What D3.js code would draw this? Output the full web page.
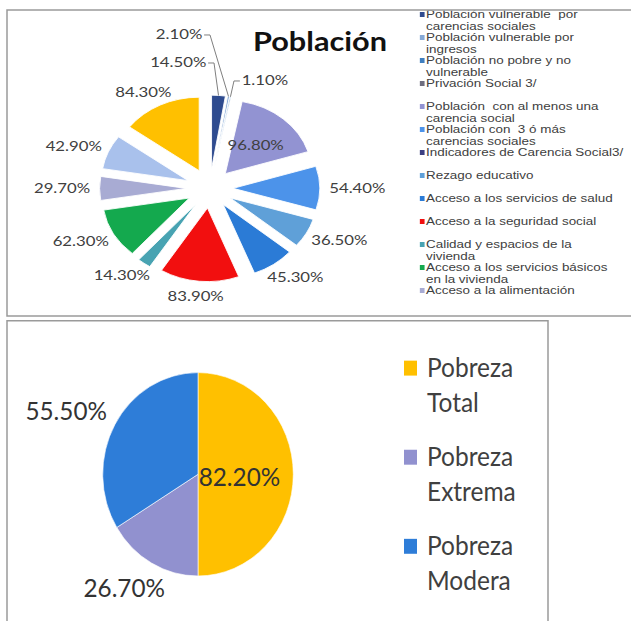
<!DOCTYPE html>
<html>
<head>
<meta charset="utf-8">
<script src="https://cdn.jsdelivr.net/npm/d3@7"></script>
<style>
  body { margin: 0; background: #fff; }
  svg { display: block; }
  text { white-space: pre; }
</style>
</head>
<body>
<svg width="631" height="621"></svg>
<script>
// ---- top chart "Población" (slices clockwise from 12 o'clock) ----
const poblacionValues = [14.5, 2.1, 1.1, 0, 96.8, 54.4, 0, 36.5, 45.3, 83.9, 14.3, 62.3, 29.7, 42.9, 84.3];
const poblacionColors = ["#2E4B8F", "#86A9D6", "#3F7FC0", "#6E6E80", "#9293D2", "#4C93EA", "#3B3F82",
                         "#5FA0D8", "#2B7BD6", "#F20F0F", "#48A3B2", "#14A94E", "#A8ABD3", "#A9C1EC", "#FFC000"];
// legend as shown (Excel cut it after 13 entries)
const poblacionLegend = [
  ["Población vulnerable  por", "carencias sociales"],
  ["Población vulnerable por", "ingresos"],
  ["Población no pobre y no", "vulnerable"],
  ["Privación Social 3/"],
  ["Población  con al menos una", "carencia social"],
  ["Población con  3 ó más", "carencias sociales"],
  ["Indicadores de Carencia Social3/"],
  ["Rezago educativo"],
  ["Acceso a los servicios de salud"],
  ["Acceso a la seguridad social"],
  ["Calidad y espacios de la", "vivienda"],
  ["Acceso a los servicios básicos", "en la vivienda"],
  ["Acceso a la alimentación"]
];

// ---- bottom chart ----
const pobrezaLegend = [["Pobreza", "Total"], ["Pobreza", "Extrema"], ["Pobreza", "Modera"]];
const pobrezaValues = [82.2, 26.7, 55.5];
const pobrezaColors = ["#FFC000", "#9191CF", "#2E7DD8"];

const fmt = v => v.toFixed(2) + "%";
const mid = d => (d.startAngle + d.endAngle) / 2;
const svg = d3.select("svg");

// panel frames
const frame = svg.append("g").attr("stroke", "#9a9a9a").attr("stroke-width", 1.5).attr("fill", "none");
frame.append("path").attr("d", "M631,10H7V316H631");
frame.append("path").attr("d", "M7,621V320.7H548V621");

svg.append("clipPath").attr("id", "clipTop")
  .append("rect").attr("x", 8).attr("y", 10.8).attr("width", 623).attr("height", 304.5);

// the top screenshot is stretched sideways, so draw it in a scaled group
const sx = 1.18;
const tg = svg.append("g").attr("clip-path", "url(#clipTop)")
  .append("g").attr("transform", `scale(${sx},1)`);

const R1 = 73.5, ex1 = 19.8;
const pieTop = d3.pie().sort(null).value(d => d)(poblacionValues);
const arc1 = d3.arc().innerRadius(0).outerRadius(R1);
const pg = tg.append("g").attr("transform", "translate(177.7,188.4)");

pg.selectAll("path.slice")
  .data(pieTop.filter(d => d.value > 0))
  .join("path")
    .attr("class", "slice")
    .attr("transform", d => `translate(${ex1 * Math.sin(mid(d))},${-ex1 * Math.cos(mid(d))})`)
    .attr("d", arc1)
    .attr("fill", d => poblacionColors[d.index])
    .attr("stroke", "#fff")
    .attr("stroke-width", 0.8);

// labels
const maxVal = d3.max(poblacionValues);
// leader-line elbows for the thin slices at the top: [dx, dy] from the slice edge, side of label
const callouts = { 0: [-3.8, -32.4, -1], 1: [-15.7, -61.5, -1], 2: [3, -15.8, 1] };
const hh = 7, gap = 8;
pieTop.filter(d => d.value > 0).forEach(d => {
  const a = mid(d), s = Math.sin(a), c = Math.cos(a);
  const t = pg.append("text")
    .attr("font-family", "Lato, sans-serif")
    .attr("font-size", 14.2)
    .attr("fill", "#404040")
    .attr("dy", "0.35em")
    .text(fmt(d.value));
  if (d.value === maxVal) {
    const [x, y] = d3.arc().innerRadius(0).outerRadius(R1 * 1.05).centroid(d);
    t.attr("text-anchor", "middle").attr("x", x + ex1 * s).attr("y", y - ex1 * c);
  } else if (callouts[d.index]) {
    const [dx, dy, side] = callouts[d.index];
    const ox = (R1 + ex1) * s, oy = -(R1 + ex1) * c;
    const ex = ox + dx, ey = oy + dy;
    pg.append("path")
      .attr("d", `M${ox},${oy}L${ex},${ey}H${ex + side * 5}`)
      .attr("fill", "none").attr("stroke", "#7f7f7f").attr("stroke-width", 1)
      .attr("vector-effect", "non-scaling-stroke");
    t.attr("text-anchor", side < 0 ? "end" : "start")
      .attr("x", ex + side * 6.5).attr("y", ey - 1);
  } else {
    const hw = t.node().getComputedTextLength() / 2;
    const r = R1 + ex1 + gap;
    t.attr("text-anchor", "middle")
      .attr("x", r * s + hw * s)
      .attr("y", -r * c - hh * c);
  }
});

tg.append("text")
  .attr("x", 214.4).attr("y", 51)
  .attr("font-family", "Lato, sans-serif").attr("font-weight", "bold")
  .attr("font-size", 26).attr("fill", "#111")
  .text("Población");

const lg = tg.append("g").attr("font-family", "'Liberation Sans', Arial, sans-serif")
  .attr("font-size", 11.4).attr("fill", "#404040");
poblacionLegend.forEach((lines, i) => {
  const y0 = 14.5 + 23 * i;
  lg.append("rect").attr("x", 355.8).attr("y", y0 - 2.5).attr("width", 4).attr("height", 5)
    .attr("fill", poblacionColors[i]);
  lines.forEach((ln, j) => {
    lg.append("text").attr("x", 361).attr("y", y0 + 12 * j).attr("dy", "0.35em").text(ln);
  });
});

// ---- bottom chart, slightly stretched vertically ----
const bg = svg.append("g").attr("transform", "translate(0,320) scale(1,1.067)");
const R2 = 95.3;
const pieBot = d3.pie().sort(null).value(d => d)(pobrezaValues);
const arc2 = d3.arc().innerRadius(0).outerRadius(R2);
const bp = bg.append("g").attr("transform", "translate(198,144.6)");
bp.selectAll("path").data(pieBot).join("path")
  .attr("d", arc2)
  .attr("fill", (d, i) => pobrezaColors[i])
  .attr("stroke", "#fff").attr("stroke-width", 0.6);

pieBot.forEach((d, i) => {
  const a = mid(d), s = Math.sin(a), c = Math.cos(a);
  const t = bp.append("text")
    .attr("font-family", "Lato, sans-serif").attr("font-size", 24.3)
    .attr("fill", "#333").attr("text-anchor", "middle").attr("dy", "0.35em")
    .text(fmt(d.value));
  if (i === 0) {
    const [x, y] = d3.arc().innerRadius(0).outerRadius(R2 * 0.87).centroid(d);
    t.attr("x", x).attr("y", y + 2.4);
  } else {
    const hw = t.node().getComputedTextLength() / 2, r = R2 + 15;
    t.attr("x", r * s + hw * s).attr("y", -r * c - 12 * c);
  }
});

const bl = bg.append("g").attr("font-family", "Lato, sans-serif").attr("font-size", 24.5).attr("fill", "#404040");
pobrezaLegend.forEach((lines, i) => {
  const base = 53.1 + 83.5 * i;
  bl.append("rect").attr("x", 404).attr("y", base - 15).attr("width", 13).attr("height", 14)
    .attr("fill", pobrezaColors[i]);
  lines.forEach((ln, j) => {
    bl.append("text").attr("x", 427).attr("y", base + 33.3 * j).text(ln);
  });
});
</script>
</body>
</html>
